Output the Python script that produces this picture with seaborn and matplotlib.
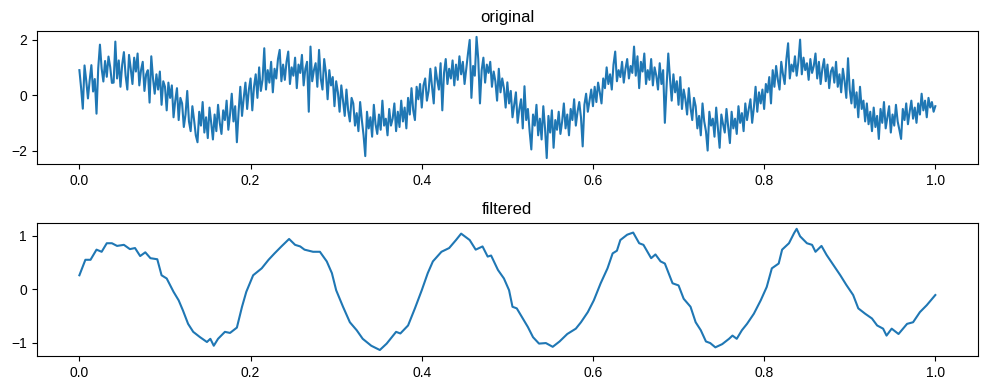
import matplotlib
matplotlib.use('Agg')
import matplotlib.pyplot as plt
import numpy as np
import seaborn as sns

plt.rcParams['font.family'] = ['Liberation Sans', 'DejaVu Sans']

# Noisy signal (501 samples over 0..1 s)
original = [
    0.9, 0.26, -0.49, 1.07, 0.52, -0.12, 0.53, 1.08, 0.13, 0.58,
    -0.67, 0.97, 1.82, 0.96, 0.49, 1.23, 0.66, 1.39, 1.01, 0.44,
    0.45, 1.93, 0.6, 1.25, 0.3, 1.1, 1.55, 0.7, 0.2, 1.45,
    0.95, 0.4, 1.35, 0.85, 1.5, 0.35, 0.9, 1.2, 0.15, 0.75,
    0.9, -0.27, 1.4, 0.6, 0.05, 0.75, 0.2, 0.85, -0.35, 0.5,
    0.3, -0.55, 0.45, -0.1, 0.35, -0.8, -0.2, 0.25, -0.9, -0.1,
    -0.3, -1.15, -0.7, 0.15, -0.95, -1.3, -0.4, -0.9, -1.45, -1.7,
    -0.6, -1.1, -0.25, -1.35, -0.8, -1.55, -0.45, -1.0, -1.6, -0.7,
    -1.3, -0.35, -1.0, -1.4, -0.55, -0.9, -0.2, -1.25, -0.7, 0.05,
    -0.95, -0.4, -1.7, -0.6, 0.3, -0.75, -0.1, 0.45, -0.5, 0.2,
    0.6, -0.55, 0.3, 0.75, -0.1, 1.0, 0.15, 0.55, 1.69, 0.2,
    0.9, 0.45, 1.2, 0.1, 0.95, 0.6, 1.3, 1.63, 0.5, 1.1,
    0.55, 1.2, 1.57, 0.4, 1.0, 0.7, 1.35, 0.25, 1.1, 0.8,
    1.45, 0.35, 0.95, 1.2, -0.6, 1.75, 0.5, 0.9, 1.15, 0.3,
    1.63, 0.6, 0.2, 1.3, 0.8, -0.15, 0.9, 0.35, 0.65, -0.4,
    0.5, 0.1, -0.6, 0.35, -0.2, -0.75, 0.2, -0.55, -0.95, -0.1,
    -0.3, -1.1, -0.65, -1.3, -0.25, -0.9, -1.45, -2.2, -0.6, -1.2,
    -0.8, -1.5, -0.35, -1.05, -1.4, -0.7, -1.25, -0.2, -1.1, -0.85,
    -1.45, -0.5, -1.1, -0.85, -0.3, -1.3, -0.6, -1.15, -0.2, -0.95,
    -0.45, -1.2, -0.1, -0.7, 0.25, -0.55, -0.9, 0.3, -0.15, 0.4,
    -0.45, 0.35, 0.6, -0.2, 0.15, 0.95, 0.3, -0.3, 1.0, 0.55,
    0.2, 1.15, -0.55, 0.8, 1.3, 0.4, 0.95, 0.6, 1.25, 0.35,
    1.1, 0.55, 1.4, 0.75, 1.2, 0.4, 0.95, 1.5, 1.99, -0.1,
    1.05, 0.7, 2.1, 1.3, -0.3, 0.9, 1.35, 0.45, 1.1, 0.8,
    1.2, 0.3, 0.85, 0.5, -0.2, 0.95, 0.1, 0.6, 0.25, -0.45,
    0.46, -0.3, 0.15, -0.8, -0.35, 0.1, -1.0, -0.5, -0.15, -1.2,
    0.32, -0.9, -0.5, -1.3, -1.96, -0.7, -1.1, -0.35, -1.45, -0.85,
    -1.6, -0.4, -1.2, -2.27, -0.75, -1.35, -0.55, -1.9, -0.9, -1.25,
    -0.6, -1.4, -0.95, -0.3, -1.2, -0.7, -1.45, -0.5, -0.9, -0.15,
    -1.1, -0.6, -0.25, -0.8, -1.85, -0.35, 0.05, -0.6, -0.2, 0.2,
    -0.4, 0.3, -0.25, 0.45, 0.1, -0.3, 0.6, 0.25, 1.0, 0.4,
    0.75, 0.2, 1.1, 1.57, 0.5, 0.9, 0.65, 1.2, 0.45, 0.95,
    1.3, 0.6, 1.05, 0.8, 1.75, 0.7, 1.4, 0.25, 1.2, 0.85,
    1.5, 0.4, 0.9, 0.55, 1.3, 0.35, 1.0, 0.7, 0.2, 1.15,
    0.4, 0.9, -1.0, 0.3, 1.5, 0.6, -0.2, 0.75, 0.1, 0.5,
    -0.35, 0.65, -0.5, 0.2, -0.15, -0.7, 0.25, -0.45, -0.9, -0.1,
    -0.4, -1.2, -0.75, -1.45, -0.3, -0.95, -1.3, -2.0, -0.6, -1.1,
    -0.85, -1.5, -0.45, -1.2, -1.9, -0.7, -1.05, -1.35, -0.5, -1.15,
    -1.73, -0.6, -1.2, -0.85, -1.4, -0.4, -1.0, -0.65, -1.3, -0.3,
    -0.9, -0.5, -0.15, -1.0, -0.45, 0.3, -0.6, 0.1, -0.3, 0.2,
    -0.5, 0.4, 0.1, 0.65, -0.3, 0.9, 0.3, 1.05, 0.55, 0.2,
    1.2, 0.75, 0.4, 1.3, 1.87, 0.6, 1.1, 0.85, 1.4, 0.7,
    1.2, 2.0, 0.75, 1.35, 0.9, 1.15, 0.55, 1.3, 0.8, 1.05,
    1.5, 0.6, 1.2, 0.4, 0.95, 1.3, 0.5, 1.1, 0.25, 0.85,
    1.0, 0.45, 1.2, 0.3, 0.75, 0.1, 0.95, 0.5, -0.1, 1.33,
    0.2, -0.3, 0.55, -0.45, 0.1, -0.8, 0.3, -0.5, -0.2, -0.95,
    -0.3, -1.05, -0.6, -1.3, -0.45, -1.15, -0.75, -1.58, -0.5, -1.0,
    -0.25, -1.2, -0.8, -0.4, -1.35, -0.7, -1.1, -0.35, -0.95, -1.25,
    -1.58, -0.5, -0.9, -0.3, -1.05, -0.6, -0.2, -0.85, -0.45, -1.0,
    -0.3, -0.7, 0.05, -0.55, -0.2, -0.8, -0.1, -0.45, -0.25, -0.6,
    -0.4,
]
t_original = np.linspace(0, 1, len(original))

# Filtered signal
t_filtered = [
    0.0, 0.007, 0.013, 0.02, 0.026, 0.032, 0.038, 0.044, 0.052, 0.059,
    0.065, 0.071, 0.077, 0.083, 0.091, 0.096, 0.102, 0.11, 0.116, 0.121,
    0.127, 0.133, 0.141, 0.149, 0.153, 0.157, 0.162, 0.17, 0.176, 0.184,
    0.19, 0.195, 0.203, 0.213, 0.221, 0.228, 0.236, 0.245, 0.252, 0.258,
    0.263, 0.273, 0.281, 0.289, 0.295, 0.3, 0.308, 0.316, 0.324, 0.331,
    0.341, 0.351, 0.359, 0.37, 0.375, 0.384, 0.392, 0.4, 0.407, 0.413,
    0.423, 0.432, 0.44, 0.446, 0.456, 0.463, 0.471, 0.477, 0.481, 0.489,
    0.496, 0.502, 0.506, 0.511, 0.518, 0.524, 0.53, 0.537, 0.545, 0.553,
    0.561, 0.57, 0.58, 0.586, 0.594, 0.601, 0.609, 0.617, 0.623, 0.628,
    0.632, 0.64, 0.647, 0.654, 0.659, 0.668, 0.673, 0.679, 0.684, 0.693,
    0.7, 0.706, 0.714, 0.72, 0.726, 0.732, 0.737, 0.743, 0.751, 0.759,
    0.763, 0.768, 0.774, 0.78, 0.788, 0.796, 0.803, 0.809, 0.817, 0.821,
    0.829, 0.835, 0.838, 0.842, 0.85, 0.856, 0.86, 0.867, 0.873, 0.881,
    0.889, 0.896, 0.904, 0.91, 0.918, 0.926, 0.932, 0.939, 0.943, 0.949,
    0.957, 0.967, 0.974, 0.982, 0.99, 1.0,
]
filtered = [
    0.26, 0.55, 0.55, 0.74, 0.70, 0.86, 0.86, 0.81, 0.83, 0.75,
    0.77, 0.62, 0.69, 0.58, 0.56, 0.26, 0.20, -0.05, -0.21, -0.40,
    -0.65, -0.80, -0.90, -0.99, -0.93, -1.06, -0.93, -0.80, -0.82, -0.72,
    -0.33, -0.05, 0.26, 0.39, 0.55, 0.67, 0.80, 0.94, 0.83, 0.80,
    0.74, 0.70, 0.70, 0.52, 0.30, -0.02, -0.33, -0.62, -0.77, -0.93,
    -1.06, -1.14, -1.02, -0.80, -0.83, -0.68, -0.36, -0.02, 0.30, 0.52,
    0.70, 0.77, 0.92, 1.04, 0.92, 0.74, 0.80, 0.61, 0.63, 0.36,
    0.20, -0.02, -0.33, -0.36, -0.55, -0.71, -0.90, -1.02, -1.01, -1.08,
    -0.98, -0.84, -0.74, -0.62, -0.43, -0.21, 0.11, 0.39, 0.67, 0.72,
    0.92, 1.02, 1.06, 0.86, 0.83, 0.58, 0.65, 0.52, 0.48, 0.11,
    0.07, -0.18, -0.33, -0.62, -0.77, -0.98, -1.01, -1.09, -1.03, -0.93,
    -0.87, -0.93, -0.77, -0.65, -0.46, -0.21, 0.04, 0.39, 0.48, 0.74,
    0.86, 1.05, 1.13, 0.99, 0.86, 0.83, 0.70, 0.81, 0.64, 0.45,
    0.26, 0.08, -0.11, -0.36, -0.46, -0.55, -0.68, -0.74, -0.87, -0.74,
    -0.84, -0.65, -0.62, -0.43, -0.30, -0.11,
]

fig, axes = plt.subplots(2, 1, figsize=(9.89, 3.9), dpi=100)

sns.lineplot(x=t_original, y=original, ax=axes[0], color='#1f77b4', linewidth=1.5)
axes[0].set_title('original')

sns.lineplot(x=t_filtered, y=filtered, ax=axes[1], color='#1f77b4', linewidth=1.5)
axes[1].set_title('filtered')

for ax in axes:
    ax.set_xticks([0.0, 0.2, 0.4, 0.6, 0.8, 1.0])
axes[0].set_yticks([-2, 0, 2])
axes[1].set_yticks([-1, 0, 1])

fig.subplots_adjust(left=0.037, right=0.989, top=0.921, bottom=0.087, hspace=0.44)
fig.savefig('out.png')
